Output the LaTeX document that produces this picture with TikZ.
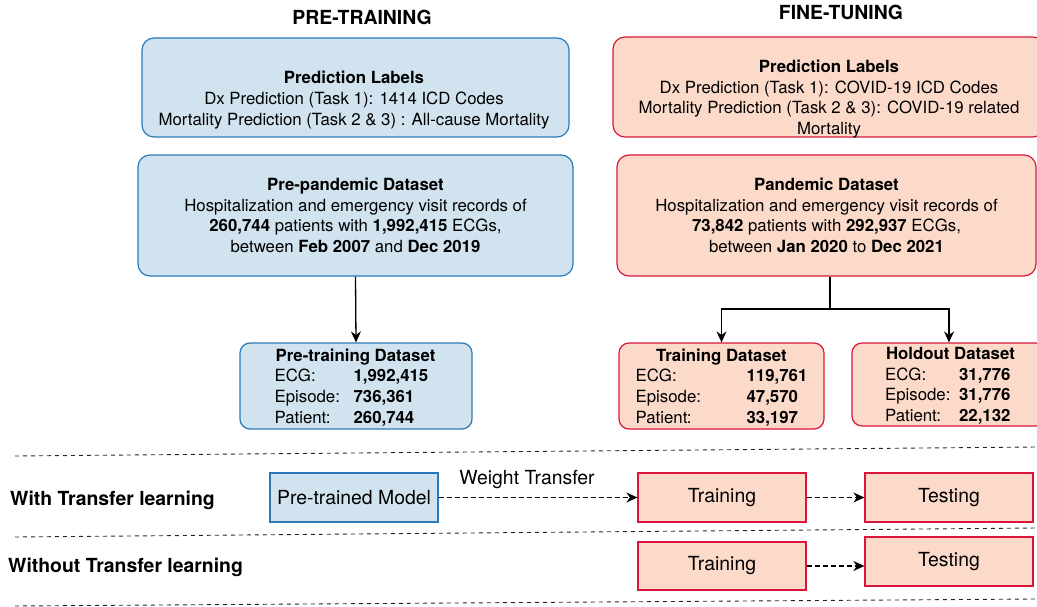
\documentclass[tikz,border=0pt]{standalone}
\usepackage{fontspec}
\setmainfont{TeX Gyre Heros}
\usetikzlibrary{arrows.meta}
\definecolor{preblue}{HTML}{D1E3EE}
\definecolor{preline}{HTML}{2A7AB9}
\definecolor{finered}{HTML}{FCDACA}
\definecolor{fineline}{HTML}{D9163A}

\begin{document}
\begin{tikzpicture}[x=1pt,y=-1pt]
    \tikzstyle{every node}+=[inner sep=0pt, font=\fontsize{16.8}{20.6}\selectfont]
    \tikzstyle{prebox}=[draw=preline, fill=preblue, line width=1.2pt, rounded corners=12pt]
    \tikzstyle{finebox}=[draw=fineline, fill=finered, line width=1.2pt, rounded corners=12pt]
    \tikzstyle{prestage}=[draw=preline, fill=preblue, line width=1.3pt, minimum width=168pt, minimum height=49pt, font=\fontsize{19.4}{23}\selectfont]
    \tikzstyle{finestage}=[draw=fineline, fill=finered, line width=1.3pt, minimum width=168pt, minimum height=49pt, font=\fontsize{19.4}{23}\selectfont]
    \tikzstyle{heading}=[font=\fontsize{19.4}{23}\selectfont\bfseries]
    \tikzstyle{flow}=[line width=1.3pt, -{Stealth[length=11pt,width=10pt]}]
    \tikzstyle{dflow}=[line width=1.1pt, dash pattern=on 5pt off 3pt, -{Stealth[length=11pt,width=10pt]}]
    \tikzstyle{sep}=[line width=0.9pt, dash pattern=on 4pt off 4pt, black!85]
    \useasboundingbox (0,0) rectangle (1037,607);
    \node[heading] (pretitle) at (362,17) {PRE-TRAINING};
    \node[heading] (finetitle) at (841,12) {FINE-TUNING};
    \node[prebox, minimum width=427pt, minimum height=99pt] (predpre) at (355.5,87.5) {};
    \node[align=center] (predpretext) at (354,100) {\textbf{Prediction Labels}\\Dx Prediction (Task 1): 1414 ICD Codes\\Mortality Prediction (Task 2 \& 3) : All-cause Mortality};
    \node[finebox, minimum width=432pt, minimum height=100pt] (predfine) at (829,87) {};
    \node[align=center] (predfinetext) at (829,99) {\textbf{Prediction Labels}\\Dx Prediction (Task 1): COVID-19 ICD Codes\\Mortality Prediction (Task 2 \& 3): COVID-19 related\\Mortality};
    \node[prebox, minimum width=435pt, minimum height=121pt, align=center] (prepan) at (355.5,215.5) {\textbf{Pre-pandemic Dataset}\\Hospitalization and emergency visit records of\\\textbf{260,744} patients with \textbf{1,992,415} ECGs,\\between \textbf{Feb 2007} and \textbf{Dec 2019}};
    \node[finebox, minimum width=419pt, minimum height=121pt, align=center] (pan) at (826.5,215.5) {\textbf{Pandemic Dataset}\\Hospitalization and emergency visit records of\\\textbf{73,842} patients with \textbf{292,937} ECGs,\\between \textbf{Jan 2020} to \textbf{Dec 2021}};
    \node[prebox, rounded corners=10pt, minimum width=232pt, minimum height=86pt] (ptdata) at (356,386) {};
    \node (pttable) at (358,388) {\begin{tabular}{@{}p{79pt}@{}l@{}}\multicolumn{2}{c}{\hspace{-5pt}\textbf{Pre-training Dataset}}\\ECG: & \textbf{1,992,415}\\Episode: & \textbf{736,361}\\Patient: & \textbf{260,744}\end{tabular}};
    \node[finebox, rounded corners=10pt, minimum width=205pt, minimum height=86pt] (trdata) at (721.5,386) {};
    \node (trtable) at (721.5,388) {\begin{tabular}{@{}p{111pt}@{}l@{}}\multicolumn{2}{c}{\textbf{Training Dataset}}\\ECG: & \textbf{119,761}\\Episode: & \textbf{47,570}\\Patient: & \textbf{33,197}\end{tabular}};
    \node[finebox, rounded corners=10pt, minimum width=194pt, minimum height=83pt] (hodata) at (949,384.5) {};
    \node (hotable) at (953,386.5) {\begin{tabular}{@{}p{74pt}@{}l@{}}\multicolumn{2}{c}{\hspace{-5pt}\textbf{Holdout Dataset}}\\ECG: & \textbf{31,776}\\Episode: & \textbf{31,776}\\Patient: & \textbf{22,132}\end{tabular}};
    \coordinate (split) at (830,309);
    \draw[flow] (prepan.south) -- (ptdata.north);
    \draw[line width=1.3pt] (pan.south -| split) -- (split);
    \draw[flow] (split) -| (trdata.north);
    \draw[flow] (split) -| (hodata.north);
    \draw[sep] (15,456) -- (1037,447);
    \draw[sep] (15,537) -- (1037,528);
    \draw[sep] (15,606) -- (1037,599);
    \node[heading, anchor=west] (withtl) at (10,500) {With Transfer learning};
    \node[heading, anchor=west] (withouttl) at (8,567) {Without Transfer learning};
    \node[prestage] (ptmodel) at (354,497.5) {Pre-trained Model};
    \node[finestage] (trainA) at (722,497.5) {\raisebox{-1.5pt}{Training}};
    \node[finestage] (testA) at (949,497.5) {\raisebox{-1.5pt}{Testing}};
    \node[finestage, minimum height=48pt] (trainB) at (722,566) {\raisebox{-1.5pt}{Training}};
    \node[finestage] (testB) at (949,561.5) {\raisebox{-1.5pt}{Testing}};
    \node[font=\fontsize{19.4}{23}\selectfont] (wtlabel) at (527,480) {Weight Transfer};
    \draw[dflow] (ptmodel.east) -- (trainA.west);
    \draw[dflow] (trainA.east) -- (testA.west);
    \draw[dflow] (trainB.east) -- (trainB.east -| testB.west);
\end{tikzpicture}
\end{document}
